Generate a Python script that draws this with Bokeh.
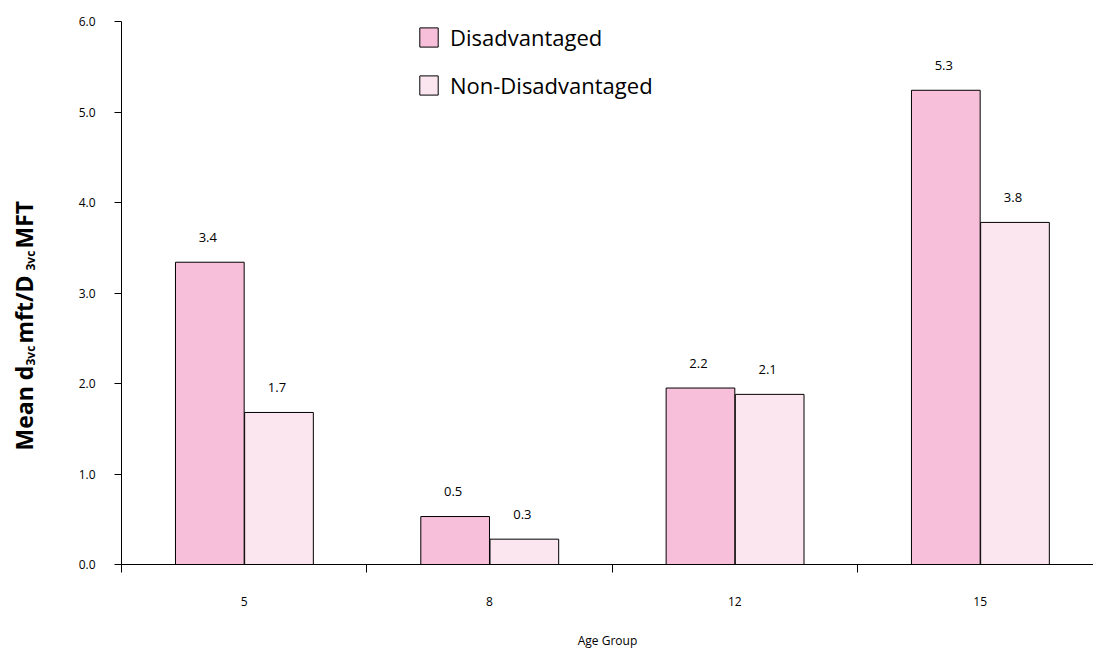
from math import pi
from bokeh.plotting import figure
from bokeh.layouts import row
from bokeh.models import (FixedTicker, Range1d, Legend, LegendItem,
                          ColumnDataSource, PrintfTickFormatter)
from bokeh.embed import file_html
from bokeh.resources import INLINE
from bokeh.core.properties import value

# ---- data ----
age_groups = ["5", "8", "12", "15"]
disadvantaged = [3.34, 0.53, 1.95, 5.24]
non_disadvantaged = [1.68, 0.28, 1.88, 3.78]
dis_labels = ["3.4", "0.5", "2.2", "5.3"]
non_labels = ["1.7", "0.3", "2.1", "3.8"]
y_ticks = [0, 1, 2, 3, 4, 5, 6]
series_names = ["Disadvantaged", "Non-Disadvantaged"]
y_title_parts = ["Mean d", "3vc", "mft/D", "3vc", "MFT"]

FONT = "Open Sans"
DIS_COLOR = "#F7BFD9"
NON_COLOR = "#FBE5EF"

TOTAL_W, TOTAL_H = 1093, 652
LAB_W = 60
BORDER_TOP, BORDER_BOTTOM = 21, 88

centers = [i + 0.5 for i in range(len(age_groups))]
bounds = [float(i) for i in range(len(age_groups))]
dis_x = [c - 0.14 for c in centers]
non_x = [c + 0.142 for c in centers]

src_dis = ColumnDataSource(dict(x=dis_x, top=disadvantaged, lab=dis_labels))
src_non = ColumnDataSource(dict(x=non_x, top=non_disadvantaged, lab=non_labels))

# ---- y-axis title panel (rotated text with subscripts) ----
pl = figure(width=LAB_W, height=TOTAL_H, x_range=Range1d(0, LAB_W),
            y_range=Range1d(BORDER_BOTTOM, TOTAL_H - BORDER_TOP),
            output_backend="svg", toolbar_location=None, x_axis_type=None, y_axis_type=None,
            min_border=0)
pl.outline_line_color = None
pl.grid.visible = False
# (x = baseline, y = start measured up from page bottom, size)
title_layout = [(23, 202, "23px"), (30, 287, "12px"), (23, 309, "23px"),
                (30, 382, "12px"), (23, 404, "23px")]
for txt, (xx, yy, fs) in zip(y_title_parts, title_layout):
    pl.text(x=[xx], y=[yy], text=[txt], angle=pi / 2, text_align="left",
            text_baseline="alphabetic", text_font=value(FONT), text_font_size=fs,
            text_font_style="bold", text_color="black")

# ---- main chart ----
p = figure(width=TOTAL_W - LAB_W, height=TOTAL_H, x_range=Range1d(0, 3.962), y_range=Range1d(0, 6),
           output_backend="svg", toolbar_location=None,
           min_border_left=121 - LAB_W, min_border_right=0,
           min_border_top=BORDER_TOP, min_border_bottom=BORDER_BOTTOM)
p.outline_line_color = None
p.grid.visible = False

r_dis = p.vbar(x="x", top="top", width=0.28, source=src_dis,
               fill_color=DIS_COLOR, line_color="black", line_width=1)
r_non = p.vbar(x="x", top="top", width=0.28, source=src_non,
               fill_color=NON_COLOR, line_color="black", line_width=1)

for src in (src_dis, src_non):
    p.text(x="x", y="top", text="lab", source=src, y_offset=-25, x_offset=-2,
           text_align="center", text_baseline="middle",
           text_font=value(FONT), text_font_size="13px", text_color="black")

# x axis
xa = p.xaxis[0]
xa.ticker = FixedTicker(ticks=centers, minor_ticks=bounds)
xa.major_label_overrides = {c: g for c, g in zip(centers, age_groups)}
xa.major_tick_out = 0
xa.major_tick_in = 0
xa.minor_tick_out = 8
xa.minor_tick_in = 0
xa.minor_tick_line_color = "black"
xa.axis_line_color = "black"
xa.major_label_standoff = 24
xa.major_label_text_font = FONT
xa.major_label_text_font_size = "12px"
xa.major_label_text_color = "black"
xa.axis_label = "Age Group"
xa.axis_label_text_font = FONT
xa.axis_label_text_font_size = "12px"
xa.axis_label_text_font_style = "normal"
xa.axis_label_text_color = "black"
xa.axis_label_standoff = 23

# y axis
ya = p.yaxis[0]
ya.ticker = FixedTicker(ticks=y_ticks, minor_ticks=[])
ya.formatter = PrintfTickFormatter(format="%.1f")
ya.major_tick_out = 7
ya.major_tick_in = 0
ya.axis_line_color = "black"
ya.major_tick_line_color = "black"
ya.major_label_standoff = 19
ya.major_label_text_font = FONT
ya.major_label_text_font_size = "12px"
ya.major_label_text_color = "black"

legend = Legend(items=[LegendItem(label=series_names[0], renderers=[r_dis]),
                       LegendItem(label=series_names[1], renderers=[r_non])],
                location=(296, 464), glyph_width=23, glyph_height=24, label_height=28,
                spacing=18, label_standoff=10, padding=0, margin=0, border_line_color=None,
                background_fill_alpha=0, label_text_font=FONT,
                label_text_font_size="22px", label_text_color="black")
p.add_layout(legend)

layout = row(pl, p, spacing=0)
open("out.html", "w").write(file_html(layout, INLINE))
